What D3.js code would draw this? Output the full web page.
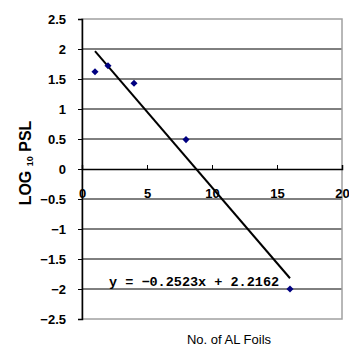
<!DOCTYPE html>
<html>
<head>
<meta charset="utf-8">
<script src="https://cdn.jsdelivr.net/npm/d3@7"></script>
<style>
  body { margin: 0; background: #fff; }
</style>
</head>
<body>
<div id="rootDiv"></div>
<script>
const foils = [1, 2, 4, 8, 16]
const logPsl = [1.62, 1.72, 1.43, 0.49, -2.0]
const slope = -0.2523
const intercept = 2.2162
const xTicks = [0, 5, 10, 15, 20]
const yTicks = [-2.5, -2, -1.5, -1, -0.5, 0, 0.5, 1, 1.5, 2, 2.5]

const width = 349
const height = 349
const margin = { top: 19, right: 7, bottom: 30, left: 82 }

const svg = d3.select(document.getElementById("rootDiv"))
    .append("svg")
    .attr("width", width)
    .attr("height", height)
    .style("font-family", "'Liberation Sans', sans-serif")

const x = d3.scaleLinear()
    .domain([0, 20])
    .range([margin.left, width - margin.right])

const y = d3.scaleLinear()
    .domain([-2.5, 2.5])
    .range([height - margin.bottom, margin.top])

const fmt = d => (d < 0 ? "\u2212" : "") + Math.abs(d)
const monoFont = "'Liberation Mono', 'DejaVu Sans Mono', monospace"

// gridlines
svg.append("g")
    .selectAll("line")
    .data(yTicks.filter(d => d !== 2.5 && d !== -2.5 && d !== 0))
    .enter()
    .append("line")
    .attr("x1", x(0))
    .attr("x2", x(20))
    .attr("y1", d => y(d))
    .attr("y2", d => y(d))
    .attr("stroke", "#000")
    .attr("stroke-width", 1)

// plot border (grey)
svg.append("rect")
    .attr("x", x(0))
    .attr("y", y(2.5))
    .attr("width", x(20) - x(0))
    .attr("height", y(-2.5) - y(2.5))
    .attr("fill", "none")
    .attr("stroke", "#a0a0a0")
    .attr("stroke-width", 1.5)

// y axis
const yAxis = svg.append("g")
    .attr("transform", `translate(${x(0)},0)`)
    .call(d3.axisLeft(y).tickValues(yTicks).tickSize(4).tickPadding(12).tickFormat(fmt))

// x axis along y = 0
const xAxis = svg.append("g")
    .attr("transform", `translate(0,${y(0)})`)
    .call(d3.axisTop(x).tickValues(xTicks).tickSize(4).tickFormat(d => d))
xAxis.selectAll("text").attr("dy", "0").attr("y", 29)

for (const axis of [xAxis, yAxis]) {
    axis.selectAll("line").style("stroke", "#000")
    axis.select("path").style("stroke", "#000").style("stroke-width", 1.5)
    axis.selectAll("text")
        .style("fill", "#000")
        .style("font-size", "13px")
        .style("font-weight", "bold")
        .style("font-family", "'Liberation Sans', sans-serif")
}

// trendline
const x0 = d3.min(foils), x1 = d3.max(foils)
svg.append("line")
    .attr("x1", x(x0))
    .attr("y1", y(slope * x0 + intercept))
    .attr("x2", x(x1))
    .attr("y2", y(slope * x1 + intercept))
    .attr("stroke", "#000")
    .attr("stroke-width", 2)

// points
svg.selectAll("path.pt")
    .data(foils)
    .enter()
    .append("path")
    .attr("class", "pt")
    .attr("d", d3.symbol().type(d3.symbolDiamond2).size(32))
    .attr("transform", (d, i) => `translate(${x(d)},${y(logPsl[i])})`)
    .attr("fill", "#000080")

// equation
svg.append("text")
    .attr("x", 109)
    .attr("y", 286)
    .style("font-size", "13.5px")
    .style("font-weight", "bold")
    .style("font-family", monoFont)
    .attr("fill", "#000")
    .text(`y = \u2212${Math.abs(slope)}x + ${intercept}`)

// axis titles
svg.append("text")
    .attr("x", 229)
    .attr("y", 344)
    .attr("text-anchor", "middle")
    .style("font-size", "13px")
    .attr("fill", "#000")
    .text("No. of AL Foils")

const yt = svg.append("text")
    .attr("transform", "translate(31,163) rotate(-90)")
    .attr("text-anchor", "middle")
    .style("font-size", "16px")
    .style("font-weight", "bold")
    .attr("fill", "#000")
yt.append("tspan").text("LOG ")
yt.append("tspan").style("font-size", "9px").attr("dy", "2").text("10")
yt.append("tspan").attr("dy", "-2").text(" PSL")
</script>
</body>
</html>
